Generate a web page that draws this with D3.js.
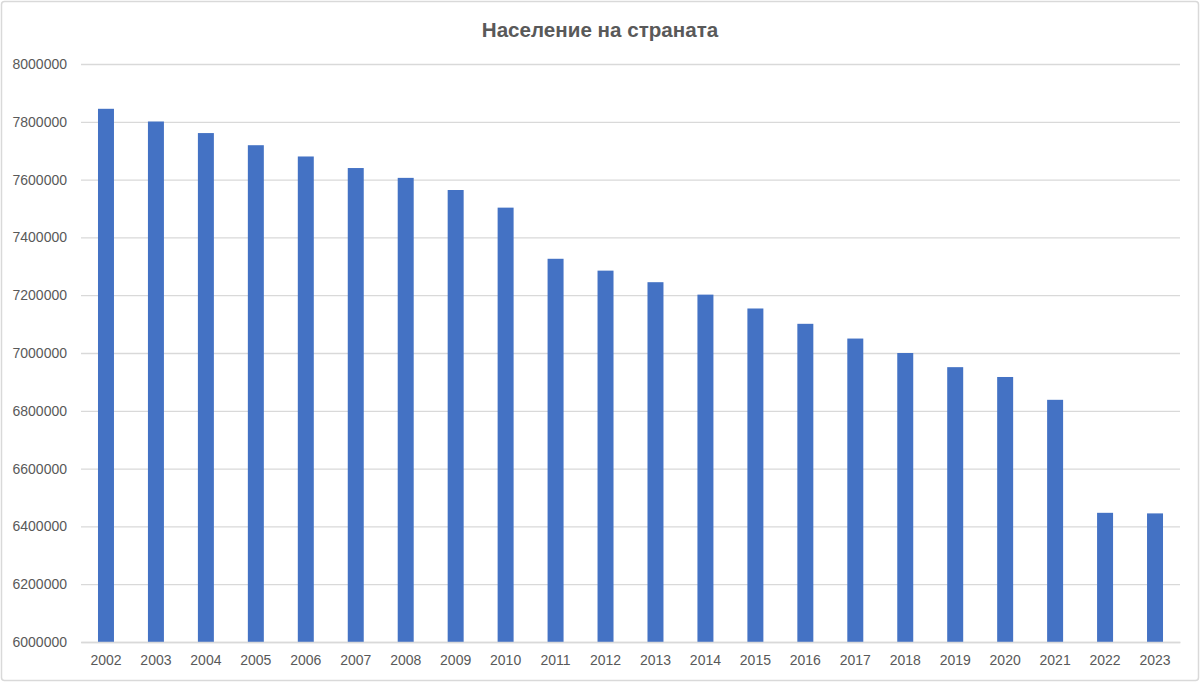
<!DOCTYPE html>
<html><head><meta charset="utf-8">
<script src="https://cdn.jsdelivr.net/npm/d3@7"></script>
<style>body{margin:0;background:#fff}svg{display:block}</style>
</head><body>
<script>
const years = ["2002","2003","2004","2005","2006","2007","2008","2009","2010","2011","2012","2013","2014","2015","2016","2017","2018","2019","2020","2021","2022","2023"];
const population = [7845000,7801000,7761000,7719000,7680000,7640000,7606000,7564000,7503000,7326000,7285000,7245000,7202000,7154000,7101000,7050000,7000000,6951000,6917000,6838000,6447000,6445000];
const yTicks = [6000000,6200000,6400000,6600000,6800000,7000000,7200000,7400000,7600000,7800000,8000000];
const title = "Население на страната";

const W = 1200, H = 683;
const m = {left: 81, right: 20, top: 64, bottom: 41};
const svg = d3.select("body").append("svg").attr("width", W).attr("height", H);
svg.append("rect").attr("x",1.5).attr("y",1.5).attr("width",W-3).attr("height",H-4)
  .attr("fill","#fff").attr("stroke","#d9d9d9").attr("stroke-width",1.5).attr("rx",3);

const x = d3.scaleBand().domain(years).range([m.left, W - m.right]).paddingInner(0.68).paddingOuter(0.34);
const y = d3.scaleLinear().domain([6000000, 8000000]).range([H - m.bottom, m.top]);

const font = "'Liberation Sans', Arial, sans-serif";
const gy = svg.append("g").attr("transform", `translate(${m.left},0)`)
  .call(d3.axisLeft(y).tickValues(yTicks).tickSize(-(W - m.left - m.right)).tickPadding(14).tickFormat(d3.format("d")));
gy.select(".domain").remove();
gy.selectAll(".tick line").attr("stroke","#d9d9d9").attr("stroke-width",1.3);
gy.selectAll(".tick text").attr("fill","#595959").style("font-family",font).style("font-size","14px");

svg.append("g").selectAll("rect").data(years).join("rect")
  .attr("x", d => x(d)).attr("width", x.bandwidth())
  .attr("y", (d,i) => y(population[i])).attr("height", (d,i) => y(6000000) - y(population[i]))
  .attr("fill", "#4472C4");

const gx = svg.append("g").attr("transform", `translate(0,${H - m.bottom})`)
  .call(d3.axisBottom(x).tickSize(0).tickPadding(13));
gx.select(".domain").attr("stroke","#d9d9d9").attr("stroke-width",1.3);
gx.selectAll(".tick text").attr("fill","#595959").style("font-family",font).style("font-size","14px");

svg.append("text").attr("x", W/2).attr("y", 37).attr("text-anchor","middle")
  .attr("fill","#595959").style("font-family",font).style("font-weight","bold").style("font-size","20.6px")
  .text(title);
</script>
</body></html>
